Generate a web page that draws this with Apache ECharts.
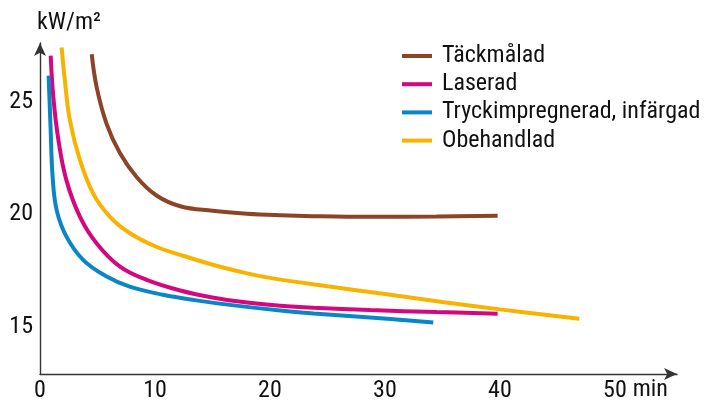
<!DOCTYPE html>
<html>
<head>
<meta charset="utf-8">
<script src="https://cdn.jsdelivr.net/npm/echarts@6/dist/echarts.min.js"></script>
<style>
html,body{margin:0;padding:0;background:#fff;}
#c{width:707px;height:404px;}
</style>
</head>
<body>
<div id="c"></div>
<script>
// Series names
var seriesNames = ['Täckmålad', 'Laserad', 'Tryckimpregnerad, infärgad', 'Obehandlad'];

// Täckmålad (brown)
var tackX = [4.5, 4.93, 5.8, 6.96, 8.4, 10.1, 12.2, 15.0, 18.0, 20.9, 23.7, 28.7, 34.5, 39.8];
var tackY = [27.1, 25.63, 24.0, 22.7, 21.65, 20.84, 20.35, 20.15, 20.02, 19.95, 19.91, 19.88, 19.9, 19.93];

// Laserad (magenta)
var lasX = [0.93, 1.16, 1.6, 2.3, 3.48, 4.93, 6.96, 9.28, 12.2, 15.1, 18.0, 20.9, 23.8, 28.7, 34.5, 39.8];
var lasY = [27.04, 25.19, 23.3, 21.5, 19.88, 18.7, 17.67, 17.08, 16.61, 16.29, 16.08, 15.93, 15.84, 15.74, 15.65, 15.58];

// Tryckimpregnerad, infärgad (blue)
var tryX = [0.75, 0.93, 1.1, 1.45, 2.3, 3.77, 5.8, 7.8, 10.7, 13.6, 16.5, 20.9, 23.8, 28.7, 34.2];
var tryY = [26.15, 23.7, 21.65, 20.18, 19.0, 17.96, 17.23, 16.78, 16.42, 16.17, 15.97, 15.72, 15.59, 15.41, 15.19];

// Obehandlad (yellow)
var obeX = [1.88, 2.17, 2.6, 3.48, 4.64, 6.09, 7.83, 10.1, 12.2, 15.1, 18.0, 20.0, 25.0, 30.0, 35.0, 40.0, 46.9];
var obeY = [27.4, 25.9, 24.16, 22.39, 20.9, 19.88, 19.15, 18.55, 18.19, 17.74, 17.37, 17.17, 16.80, 16.45, 16.10, 15.77, 15.35];

// Tick labels
var xTicks = [0, 10, 20, 30, 40, 50];
var yTicks = [15, 20, 25];
var xUnit = 'min';
var yUnit = 'kW/m²';

var colors = ['#8c4426', '#d5077f', '#0a86c8', '#f8b200'];
var FONT = '"Roboto Condensed", "Liberation Sans", sans-serif';
var FS = 24;

function pairs(xs, ys) { return xs.map(function (x, i) { return [x, ys[i]]; }); }
var dataSets = [pairs(tackX, tackY), pairs(lasX, lasY), pairs(tryX, tryY), pairs(obeX, obeY)];

var chart = echarts.init(document.getElementById('c'), null, { renderer: 'canvas' });
chart.setOption({
  animation: false,
  backgroundColor: '#fff',
  textStyle: { fontFamily: FONT },
  grid: { left: 40, right: 30, top: 43, bottom: 30, containLabel: false },
  legend: {
    orient: 'vertical',
    left: 402,
    top: 44,
    padding: 0,
    icon: 'rect',
    itemWidth: 30,
    itemHeight: 4,
    itemGap: 4.2,
    data: seriesNames,
    textStyle: { fontFamily: FONT, fontSize: FS, lineHeight: 24, color: '#111', padding: [0, 0, 0, 5] }
  },
  xAxis: {
    type: 'value',
    min: 0,
    max: 55.4,
    name: xUnit,
    nameLocation: 'end',
    nameGap: -45,
    nameTextStyle: { fontFamily: FONT, fontSize: FS, color: '#111', align: 'left', verticalAlign: 'top', padding: [4, 0, 0, 0] },
    axisLine: { show: true, lineStyle: { color: '#333', width: 1.4 }, symbol: ['none', 'arrow'], symbolSize: [9, 13] },
    axisTick: { show: false },
    splitLine: { show: false },
    axisLabel: { customValues: xTicks, margin: 5, fontFamily: FONT, fontSize: FS, color: '#111' }
  },
  yAxis: {
    type: 'value',
    min: 12.9,
    max: 27.6,
    name: yUnit,
    nameLocation: 'end',
    nameGap: 8,
    nameTextStyle: { fontFamily: FONT, fontSize: FS, color: '#111', align: 'left', padding: [0, 0, 0, -3] },
    axisLine: { show: true, lineStyle: { color: '#333', width: 1.4 }, symbol: ['none', 'arrow'], symbolSize: [9, 13] },
    axisTick: { show: false },
    splitLine: { show: false },
    axisLabel: { customValues: yTicks, margin: 7, fontFamily: FONT, fontSize: FS, color: '#111' }
  },
  series: seriesNames.map(function (n, i) {
    return {
      name: n,
      type: 'line',
      smooth: 0.4,
      symbol: 'none',
      data: dataSets[i],
      lineStyle: { color: colors[i], width: 4, cap: 'butt' },
      itemStyle: { color: colors[i] }
    };
  })
});
</script>
</body>
</html>
